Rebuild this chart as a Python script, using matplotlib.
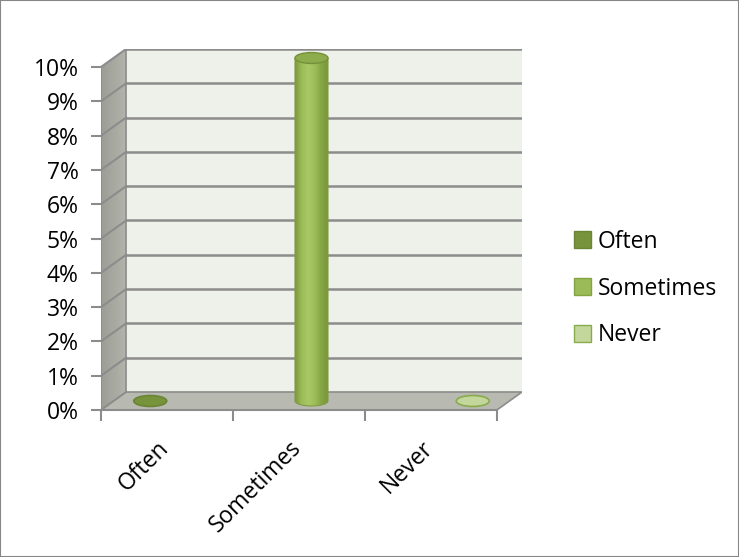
import numpy as np
import matplotlib.pyplot as plt
import matplotlib.transforms as mtransforms
from matplotlib.patches import Polygon, Ellipse, Patch, Rectangle
from matplotlib.colors import LinearSegmentedColormap

plt.rcParams['font.family'] = ['Open Sans', 'DejaVu Sans']

categories = ["Often", "Sometimes", "Never"]
values = [0.0, 0.10, 0.0]          # share of answers per option
yticks = [0.0, 0.01, 0.02, 0.03, 0.04, 0.05, 0.06, 0.07, 0.08, 0.09, 0.10]
ytick_labels = ["0%", "1%", "2%", "3%", "4%", "5%", "6%", "7%", "8%", "9%", "10%"]
face_colors = ["#77933c", "#9bbb59", "#c3d69b"]
edge_colors = ["#6a8533", "#84a444", "#8aab4c"]

# depth of the fake 3D box, in data units
dx, dy = 0.19, 0.00525
ymax = 0.10
fs = 16.5

fig = plt.figure(figsize=(7.39, 5.57), dpi=100)
W, H = 739, 557
x0_px, x1_px = 101, 522
y0_px, y1_px = 410, 49
ax = fig.add_axes([x0_px / W, 1 - y0_px / H, (x1_px - x0_px) / W, (y0_px - y1_px) / H])
ax.set_xlim(0, 3 + dx)
ax.set_ylim(0, ymax + dy)
for s in ax.spines.values():
    s.set_visible(False)

grid_c = "#8c8c8c"

# back wall
ax.add_patch(Rectangle((dx, dy), 3, ymax, facecolor="#eef1ea", edgecolor="none", zorder=0))
# left wall with a grey gradient
lw_cmap = LinearSegmentedColormap.from_list("lw", ["#9c9e96", "#b3b5ad"])
lw = ax.imshow(np.linspace(0, 1, 50).reshape(1, -1), extent=[0, dx, 0, ymax + dy],
               aspect="auto", cmap=lw_cmap, zorder=0.5)
lw_poly = Polygon([(0, 0), (dx, dy), (dx, ymax + dy), (0, ymax)], closed=True,
                  facecolor="none", edgecolor="none")
ax.add_patch(lw_poly)
lw.set_clip_path(lw_poly)
# floor
ax.add_patch(Polygon([(0, 0), (3, 0), (3 + dx, dy), (dx, dy)], closed=True,
                     facecolor="#b8bab2", edgecolor=grid_c, lw=1.2, zorder=1))

# gridlines on back and left wall
for v in yticks[1:]:
    ax.plot([dx, 3 + dx], [v + dy, v + dy], color=grid_c, lw=1.8, zorder=1)
    ax.plot([0, dx], [v, v + dy], color=grid_c, lw=1.5, zorder=1)
ax.plot([0, 0], [0, ymax], color=grid_c, lw=1.2, zorder=1)
ax.plot([dx, dx], [dy, ymax + dy], color=grid_c, lw=1.2, zorder=1)
ax.plot([0, dx], [0, dy], color=grid_c, lw=1.2, zorder=1)

# cylinders: series i sits in category i, in its own slot of the cluster
slot = 0.222
diam = 0.25
eh = 0.0029
cyl_cmap = LinearSegmentedColormap.from_list(
    "cyl", ["#7b983c", "#9cbc58", "#a8c866", "#9ebd5a", "#86a646", "#7a973b"])
for i, v in enumerate(values):
    xc = i + 0.5 + (i - 1) * slot + dx / 2
    yb = dy / 2
    yt = v + dy / 2
    if v > 0:
        t = np.linspace(np.pi, 2 * np.pi, 40)
        bottom = np.column_stack([xc + diam / 2 * np.cos(t), yb + eh / 2 * np.sin(t)])
        outline = np.vstack([[xc - diam / 2, yt], bottom, [xc + diam / 2, yt]])
        body = Polygon(outline, closed=True, facecolor="none", edgecolor="#7f9c42",
                       lw=0.8, zorder=3)
        ax.add_patch(body)
        img = ax.imshow(np.linspace(0, 1, 80).reshape(1, -1),
                        extent=[xc - diam / 2, xc + diam / 2, yb - eh, yt],
                        aspect="auto", cmap=cyl_cmap, zorder=2.5)
        img.set_clip_path(body)
        ax.add_patch(Ellipse((xc, yt), diam, eh * 1.1, facecolor="#8dac4c",
                             edgecolor="#74913a", lw=1.0, zorder=4))
    else:
        ax.add_patch(Ellipse((xc, yt), diam, eh * 1.1, facecolor=face_colors[i],
                             edgecolor=edge_colors[i], lw=1.2, zorder=4, clip_on=False))

ax.set_xlim(0, 3 + dx)
ax.set_ylim(0, ymax + dy)

# axes ticks on the front plane
ax.set_yticks(yticks)
ax.set_yticklabels(ytick_labels, fontsize=fs)
ax.set_xticks([0, 1, 2, 3])
ax.set_xticklabels([])
ax.set_xticks([0.5, 1.5, 2.5], minor=True)
ax.set_xticklabels(categories, minor=True, rotation=45, ha="right", va="top",
                   rotation_mode="anchor", fontsize=fs)
ax.tick_params(axis="y", length=7, width=1.5, color=grid_c, pad=9)
ax.tick_params(axis="x", which="major", length=8, width=1.5, color=grid_c)
ax.tick_params(axis="x", which="minor", length=0, pad=19)
# nudge the slanted category labels to the left
shift = mtransforms.ScaledTranslation(-10 / 100, 0, fig.dpi_scale_trans)
for lab in ax.get_xticklabels(minor=True):
    lab.set_transform(lab.get_transform() + shift)
ax.plot([0, 3], [0, 0], color=grid_c, lw=1.5, zorder=5, clip_on=False)

handles = [Patch(facecolor=face_colors[i], edgecolor=edge_colors[i], label=c)
           for i, c in enumerate(categories)]
fig.legend(handles=handles, loc="upper left", bbox_to_anchor=(553 / W, 1 - 209 / H),
           frameon=False, fontsize=fs, handlelength=0.75, handleheight=0.75,
           handletextpad=0.3, labelspacing=1.0)

# outer chart border
fig.add_artist(Rectangle((0, 0), 1, 1, transform=fig.transFigure, fill=False,
                         edgecolor="#868686", lw=1.5))

fig.savefig("out.png", dpi=100)
